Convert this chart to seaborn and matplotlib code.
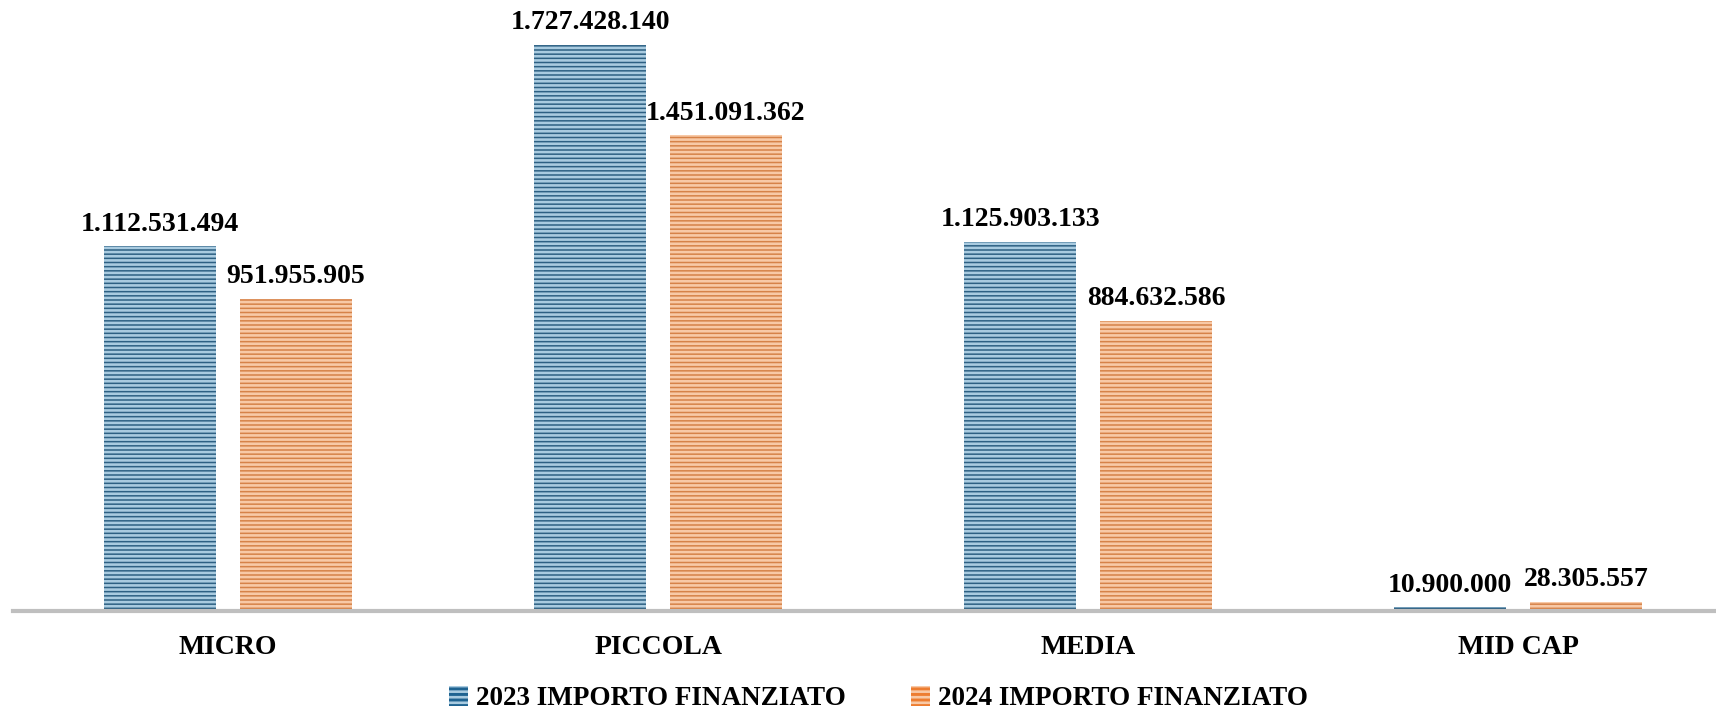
import seaborn as sns
import matplotlib.pyplot as plt
import pandas as pd
from matplotlib.patches import Patch

categories = ["MICRO", "PICCOLA", "MEDIA", "MID CAP"]
series = ["2023 IMPORTO FINANZIATO", "2024 IMPORTO FINANZIATO"]
values_2023 = [1112531494, 1727428140, 1125903133, 10900000]
values_2024 = [951955905, 1451091362, 884632586, 28305557]

colors = ["#1F6391", "#ED7D31"]
stripe_colors = ["#A9CBE0", "#F8C9A6"]

df = pd.DataFrame({
    "categoria": categories * 2,
    "serie": [series[0]] * 4 + [series[1]] * 4,
    "importo": values_2023 + values_2024,
})

sns.set_theme(style="white")
plt.rcParams["font.family"] = ["Liberation Serif"]
plt.rcParams["font.weight"] = "bold"
plt.rcParams["hatch.linewidth"] = 1.9
plt.rcParams["text.color"] = "black"
plt.rcParams["xtick.color"] = "black"

fig = plt.figure(figsize=(17.16, 7.16), dpi=100)
ax = fig.add_axes([13 / 1716, 105 / 716, 1 - 13 / 1716, 611 / 716])

sns.barplot(data=df, x="categoria", y="importo", hue="serie", palette=colors,
            width=0.632, gap=0.177, legend=False, ax=ax)

for i, patch in enumerate(ax.patches):
    s = i // 4
    patch.set_hatch("----")
    patch.set_edgecolor(stripe_colors[s])
    patch.set_linewidth(0)


def fmt(v):
    return f"{v:,}".replace(",", ".")


for s, cont in enumerate(ax.containers):
    vals = values_2023 if s == 0 else values_2024
    ax.bar_label(cont, labels=[fmt(v) for v in vals], padding=7,
                 fontsize=20, fontweight="bold", color="black")

ax.set_xlim(-0.5, 3.46)
ax.set_ylim(0, 1.864e9)
ax.set_xlabel("")
ax.set_ylabel("")
ax.set_yticks([])
for side in ["top", "left", "right"]:
    ax.spines[side].set_visible(False)
ax.spines["bottom"].set_color("#BFBFBF")
ax.spines["bottom"].set_linewidth(3)
ax.tick_params(axis="x", length=0, pad=17, labelsize=20, labelcolor="black")
for lbl in ax.get_xticklabels():
    lbl.set_fontweight("bold")

handles = [Patch(facecolor=colors[i], edgecolor=stripe_colors[i], hatch="---", linewidth=0)
           for i in range(2)]
fig.legend(handles, series, loc="center", bbox_to_anchor=(0.512, 0.024), ncol=2,
           frameon=False, handlelength=0.7, handleheight=0.75,
           handletextpad=0.3, columnspacing=2.4, prop={"weight": "bold", "size": 19.5})

fig.savefig("out.png", dpi=100)
